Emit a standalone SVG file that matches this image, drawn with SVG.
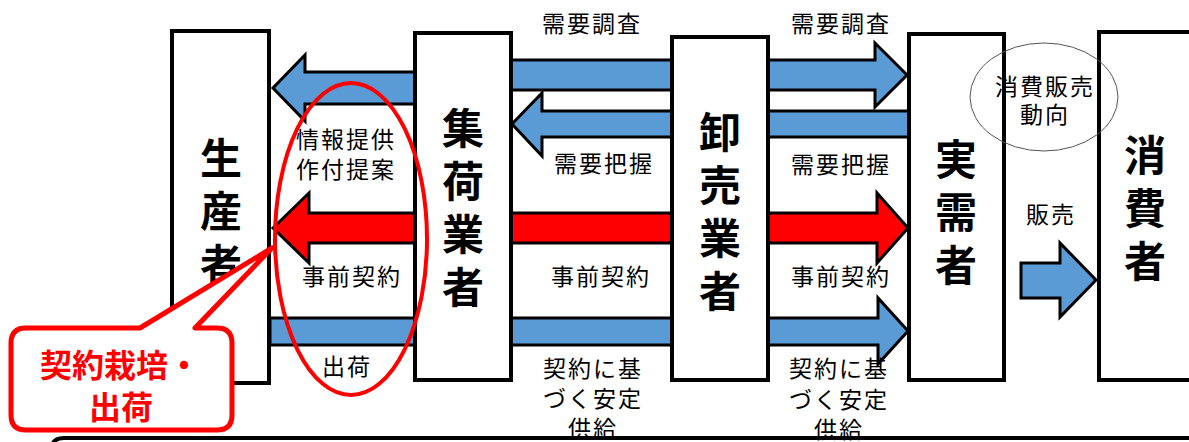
<svg xmlns="http://www.w3.org/2000/svg" width="1189" height="442" viewBox="0 0 1189 442">
<style>
.box{fill:#fff;stroke:#000;stroke-width:4}
.blue{fill:#5B9BD5;stroke:#000;stroke-width:3;stroke-linejoin:miter}
.red{fill:#FF0000;stroke:#000;stroke-width:3;stroke-linejoin:miter}
.lbl{font-family:"Noto Sans CJK JP",sans-serif;font-size:23px;fill:#000;text-anchor:middle;dominant-baseline:central;letter-spacing:2px}
.big{font-family:"Noto Sans CJK JP",sans-serif;font-size:42px;font-weight:bold;fill:#000;writing-mode:vertical-rl;text-anchor:start;letter-spacing:11px}
.call{font-family:"Noto Sans CJK JP",sans-serif;font-size:32px;font-weight:bold;fill:#FF0000;text-anchor:middle;dominant-baseline:central}
</style>
<rect width="1189" height="442" fill="#fff"/>
<path d="M52 448 Q52 438 64 438 L1189 438" fill="none" stroke="#000" stroke-width="4"/>
<g id="connectors">
<polygon class="blue" points="420,72 305,72 305,55 273,88 305,121 305,104 420,104"/>
<polygon class="blue" points="505,60 875,60 875,43 907,75 875,107 875,90 505,90"/>
<polygon class="blue" points="915,111 542,111 542,93 512,124 542,156 542,137 915,137"/>
<polygon class="red" points="273,228 309,193 309,213 877,213 877,193 908,228 877,263 877,243 309,243 309,263"/>
<polygon class="blue" points="270,318 878,318 878,298 908,331 878,364 878,345 270,345"/>
<polygon class="blue" points="1021,263 1060,263 1060,243 1096,280 1060,317 1060,298 1021,298"/>
</g>
<g id="producer"><rect class="box" x="172" y="31" width="97" height="352"/>
<text class="big" x="221" y="137">生産者</text></g>
<g id="collector"><rect class="box" x="415" y="33" width="96" height="347"/>
<text class="big" x="463" y="107">集荷業者</text></g>
<g id="wholesaler"><rect class="box" x="672" y="37" width="96" height="343"/>
<text class="big" x="720" y="111">卸売業者</text></g>
<g id="user"><rect class="box" x="909" y="34" width="95" height="346"/>
<text class="big" x="956" y="138">実需者</text></g>
<g id="consumer"><rect class="box" x="1099" y="32" width="120" height="348"/>
<text class="big" x="1145" y="134">消費者</text></g>
<g id="labels">
<text class="lbl" x="592" y="22">需要調査</text>
<text class="lbl" x="841" y="22">需要調査</text>
<text class="lbl" x="604" y="162">需要把握</text>
<text class="lbl" x="841" y="163">需要把握</text>
<text class="lbl" x="346" y="138">情報提供<tspan x="346" dy="30">作付提案</tspan></text>
<text class="lbl" x="352" y="275">事前契約</text>
<text class="lbl" x="601" y="275">事前契約</text>
<text class="lbl" x="841" y="275">事前契約</text>
<text class="lbl" x="347" y="365">出荷</text>
<text class="lbl" x="593" y="367">契約に基<tspan x="593" dy="30">づく安定</tspan><tspan x="593" dy="30">供給</tspan></text>
<text class="lbl" x="839" y="367">契約に基<tspan x="839" dy="31">づく安定</tspan><tspan x="839" dy="30">供給</tspan></text>
<text class="lbl" x="1051" y="213">販売</text>
</g>
<g id="trend">
<ellipse cx="1044" cy="97" rx="74" ry="54" fill="none" stroke="#555" stroke-width="1"/>
<text class="lbl" x="1045" y="85">消費販売<tspan x="1045" dy="28">動向</tspan></text>
</g>
<g id="highlight">
<ellipse cx="351" cy="239" rx="76" ry="156" fill="none" stroke="#FF0000" stroke-width="4"/>
</g>
<g id="callout">
<path d="M26 328 L140 328 L272 248 L195 328 L217 328 Q232 328 232 343 L232 415 Q232 430 217 430 L26 430 Q11 430 11 415 L11 343 Q11 328 26 328 Z" fill="#fff" stroke="#FF0000" stroke-width="5" stroke-linejoin="round"/>
<text class="call" x="120" y="363">契約栽培・<tspan x="121" dy="42">出荷</tspan></text>
</g>
</svg>
